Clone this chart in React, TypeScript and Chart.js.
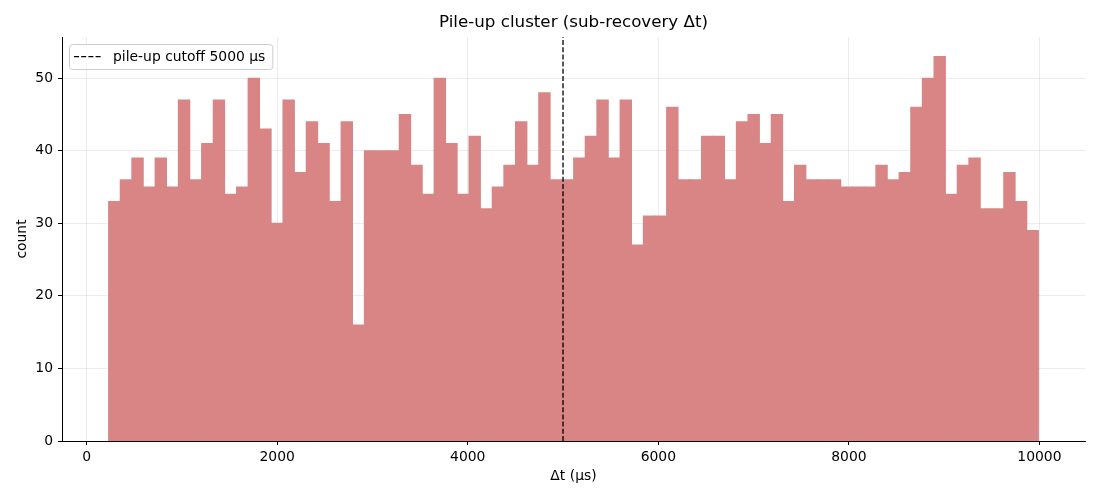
import React, { useEffect, useRef } from 'react'
import { Chart, registerables, Plugin } from 'chart.js'

Chart.register(...registerables)

const FONT = '"DejaVu Sans", "Liberation Sans", sans-serif'

// histogram bins in μs (80 bins of equal width)
const BIN_START = 230
const BIN_WIDTH = 122
const COUNTS = [
  33, 36, 39, 35, 39, 35, 47, 36, 41, 47,
  34, 35, 50, 43, 30, 47, 37, 44, 41, 33,
  44, 16, 40, 40, 40, 45, 38, 34, 50, 41,
  34, 42, 32, 35, 38, 44, 38, 48, 36, 36,
  39, 42, 47, 39, 47, 27, 31, 31, 46, 36,
  36, 42, 42, 36, 44, 45, 41, 45, 33, 38,
  36, 36, 36, 35, 35, 35, 38, 36, 37, 46,
  50, 53, 34, 38, 39, 32, 32, 37, 33, 29,
]

const CUTOFF = 5000
const CUTOFF_LABEL = 'pile-up cutoff 5000 μs'

const X_MIN = -258
const X_MAX = 10478
const Y_MAX = 55.65
const X_TICKS = [0, 2000, 4000, 6000, 8000, 10000]
const Y_TICKS = [0, 10, 20, 30, 40, 50]

// matplotlib-style legend box inside the axes
const legendBox: Plugin = {
  id: 'legendBox',
  afterDraw (chart) {
    const { ctx, chartArea } = chart
    const ds = chart.data.datasets.find(d => d.label)
    if (!ds) return
    const label = ds.label as string
    ctx.save()
    ctx.font = `13.9px ${FONT}`
    const tw = ctx.measureText(label).width
    const x = chartArea.left + 7
    const y = chartArea.top + 7
    const w = 44 + tw + 7
    const h = 25
    ctx.beginPath()
    ctx.roundRect(x + 0.5, y + 0.5, w, h, 3)
    ctx.fillStyle = 'rgba(255,255,255,0.8)'
    ctx.fill()
    ctx.strokeStyle = '#cccccc'
    ctx.lineWidth = 1
    ctx.stroke()
    ctx.setLineDash([5, 2.2])
    ctx.strokeStyle = '#000'
    ctx.lineWidth = 1.2
    ctx.beginPath()
    ctx.moveTo(x + 5, y + h / 2)
    ctx.lineTo(x + 33, y + h / 2)
    ctx.stroke()
    ctx.setLineDash([])
    ctx.fillStyle = '#000'
    ctx.textBaseline = 'middle'
    ctx.fillText(label, x + 44, y + h / 2 + 1)
    ctx.restore()
  },
}

export default function App () {
  const canvasRef = useRef<HTMLCanvasElement>(null)

  useEffect(() => {
    if (!canvasRef.current) return
    const bars = COUNTS.map((c, i) => ({ x: BIN_START + BIN_WIDTH * (i + 0.5), y: c }))

    const chart = new Chart(canvasRef.current, {
      type: 'bar',
      data: {
        datasets: [
          {
            type: 'line',
            label: CUTOFF_LABEL,
            data: [{ x: CUTOFF, y: 0 }, { x: CUTOFF, y: Y_MAX }],
            borderColor: '#000',
            borderWidth: 1.3,
            borderDash: [5, 2.2],
            pointRadius: 0,
            fill: false,
            order: 0,
          },
          {
            type: 'bar',
            data: bars,
            backgroundColor: 'rgb(217,133,133)',
            borderWidth: 0,
            barPercentage: 1,
            categoryPercentage: 1,
            inflateAmount: 0.4,
            order: 1,
          } as any,
        ],
      },
      options: {
        animation: false,
        responsive: true,
        maintainAspectRatio: false,
        layout: { padding: { left: 0, right: 15, top: 0, bottom: 0 } },
        plugins: {
          legend: { display: false },
          tooltip: { enabled: false },
          title: {
            display: true,
            text: 'Pile-up cluster (sub-recovery Δt)',
            fullSize: false,
            color: '#000',
            font: { family: FONT, size: 16.7, weight: 'normal', lineHeight: 1.2 },
            padding: { top: 13, bottom: 4 },
          },
        },
        scales: {
          x: {
            type: 'linear',
            min: X_MIN,
            max: X_MAX,
            offset: false,
            z: 1,
            afterBuildTicks: (scale) => { scale.ticks = X_TICKS.map(v => ({ value: v })) },
            afterFit: (scale) => { scale.height = 59 },
            grid: {
              offset: false,
              color: 'rgba(176,176,176,0.3)',
              lineWidth: 0.8,
              tickColor: '#000',
              tickLength: 4,
              tickWidth: 1,
            },
            border: { display: true, color: '#000', width: 1 },
            ticks: {
              color: '#000',
              padding: 4,
              maxRotation: 0,
              autoSkip: false,
              font: { family: FONT, size: 13.9 },
              callback: (v) => String(v),
            },
            title: {
              display: true,
              text: 'Δt (μs)',
              color: '#000',
              font: { family: FONT, size: 13.9, lineHeight: 1.2 },
              padding: { top: 0, bottom: 15 },
            },
          },
          y: {
            type: 'linear',
            min: 0,
            max: Y_MAX,
            z: 1,
            afterBuildTicks: (scale) => { scale.ticks = Y_TICKS.map(v => ({ value: v })) },
            afterFit: (scale) => { scale.width = 62 },
            grid: {
              color: 'rgba(176,176,176,0.3)',
              lineWidth: 0.8,
              tickColor: '#000',
              tickLength: 4,
              tickWidth: 1,
            },
            border: { display: true, color: '#000', width: 1 },
            ticks: {
              color: '#000',
              padding: 5,
              autoSkip: false,
              font: { family: FONT, size: 13.9 },
              callback: (v) => String(v),
            },
            title: {
              display: true,
              text: 'count',
              color: '#000',
              font: { family: FONT, size: 13.9, lineHeight: 1.2 },
              padding: { top: 14, bottom: 0 },
            },
          },
        },
      },
      plugins: [legendBox],
    })

    return () => {
      chart.destroy()
    }
  }, [])

  return (
    <div style={{ position: 'absolute', left: 0, top: 0, width: 1100, height: 500, background: '#fff' }}>
      <canvas ref={canvasRef} />
    </div>
  )
}
